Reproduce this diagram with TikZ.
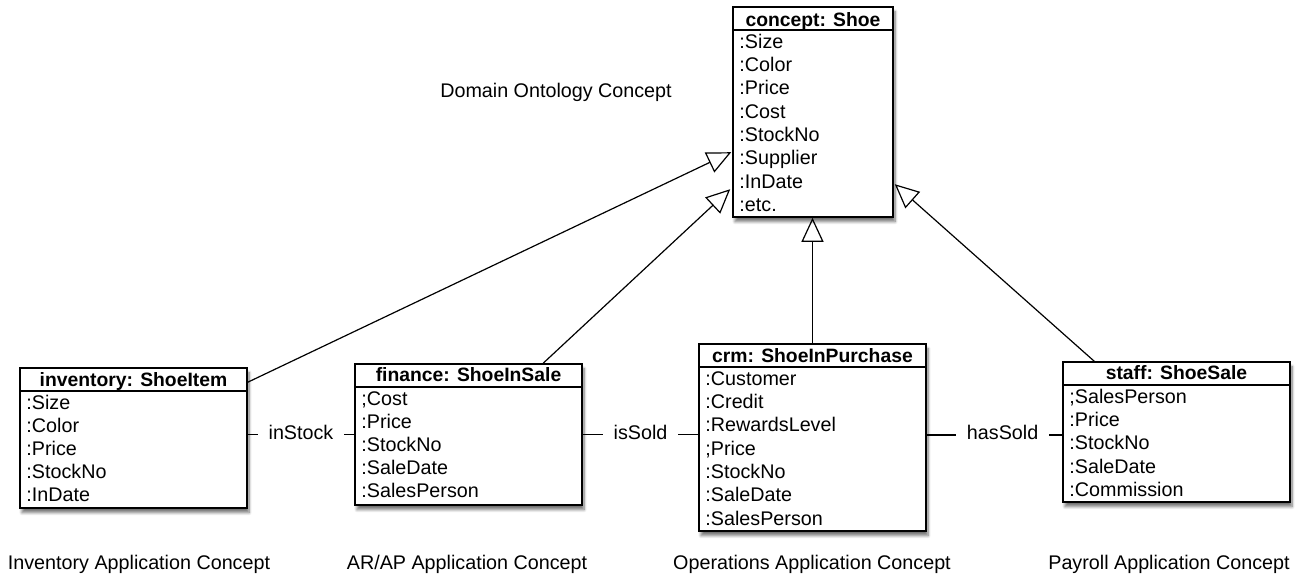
\documentclass[tikz,border=0pt]{standalone}
\usepackage{fontspec}
\setmainfont{Liberation Sans}
\usetikzlibrary{arrows.meta,calc,fit,shadows.blur}
\tikzset{
  x=0.75pt, y=-0.75pt,
  txt/.style={font=\fontsize{14.8}{17}\selectfont, inner sep=0pt},
  umlbox/.style={draw, line width=1.2pt, fill=white, inner sep=0pt,
    blur shadow={shadow xshift=1.5pt, shadow yshift=-3.5pt, shadow blur steps=8, shadow opacity=55}},
  hdr/.style={line width=1.2pt},
  title/.style={txt, font=\bfseries\fontsize{14.5}{17}\selectfont, anchor=base},
  row/.style={txt, anchor=base west},
  caption/.style={txt, anchor=base},
  gen/.style={line width=0.9pt, -{Triangle[open, length=18pt, width=16.5pt]}},
  assoc/.style={line width=0.9pt},
  asslbl/.style={txt, fill=white, inner xsep=8pt, text height=1.4ex, text depth=0pt, anchor=center}
}
\newcommand{\umlrows}[3]{% name, step, list
  \foreach \t [count=\i] in {#3}
    \node[row] (#1-\i) at ($(#1.north west)+(7,{42+#2*(\i-1)})$) {\t};
}
\begin{document}
\begin{tikzpicture}
\useasboundingbox (0,0) rectangle (1297,576);

% boxes
\node[umlbox, fit={(733,7) (893,217)}] (shoe) {};
\node[umlbox, fit={(20,368) (247,508)}] (inv) {};
\node[umlbox, fit={(355,364) (582,505)}] (fin) {};
\node[umlbox, fit={(699,344) (926,531)}] (crm) {};
\node[umlbox, fit={(1063,362) (1290,502)}] (staff) {};

% headers
\foreach \b in {shoe,inv,fin,crm,staff}
  \draw[hdr] ($(\b.north west)+(0,24)$) -- ($(\b.north east)+(0,24)$);

\node[title] (shoe-t) at ($(shoe.north)+(0,20)$) {concept: Shoe};
\node[title] (inv-t) at ($(inv.north)+(0,19)$) {inventory: ShoeItem};
\node[title] (fin-t) at ($(fin.north)+(0,18)$) {finance: ShoeInSale};
\node[title] (crm-t) at ($(crm.north)+(0,19)$) {crm: ShoeInPurchase};
\node[title] (staff-t) at ($(staff.north)+(0,18)$) {staff: ShoeSale};

\umlrows{shoe}{23.3}{:Size,:Color,:Price,:Cost,:StockNo,:Supplier,:InDate,:etc.}
\umlrows{inv}{23.1}{:Size,:Color,:Price,:StockNo,:InDate}
\umlrows{fin}{23.1}{;Cost,:Price,:StockNo,:SaleDate,:SalesPerson}
\umlrows{crm}{23.3}{:Customer,:Credit,:RewardsLevel,;Price,:StockNo,:SaleDate,:SalesPerson}
\umlrows{staff}{23.3}{;SalesPerson,:Price,:StockNo,:SaleDate,:Commission}

% generalizations
\draw[gen] ($(inv.north east)+(0,15)$) -- ($(shoe.north west)+(-1,146)$);
\draw[gen] ($(fin.north west)+(189,0)$) -- ($(shoe.north west)+(-2,183)$);
\draw[gen] (crm.north) -- (crm.north |- shoe.south);
\draw[gen] ($(staff.north west)+(32,0)$) -- ($(shoe.north east)+(1,178)$);

% associations
\draw[assoc] (inv.east |- fin.west) -- node[asslbl] (l1) {inStock} (fin.west);
\draw[assoc] (fin.east) -- node[asslbl] (l2) {isSold} (crm.west |- fin.east);
\draw[assoc] ($(crm.east)+(0,-2.5)$) coordinate (h1) -- node[asslbl, pos=0.56] (l3) {hasSold} (h1 -| staff.west);

% captions
\node[caption] (c0) at (556,97) {Domain Ontology Concept};
\node[caption] (c1) at (139,569) {Inventory Application Concept};
\node[caption] (c2) at (467,569) {AR/AP Application Concept};
\node[caption] (c3) at (812,569) {Operations Application Concept};
\node[caption] (c4) at (1169,569) {Payroll Application Concept};
\end{tikzpicture}
\end{document}
